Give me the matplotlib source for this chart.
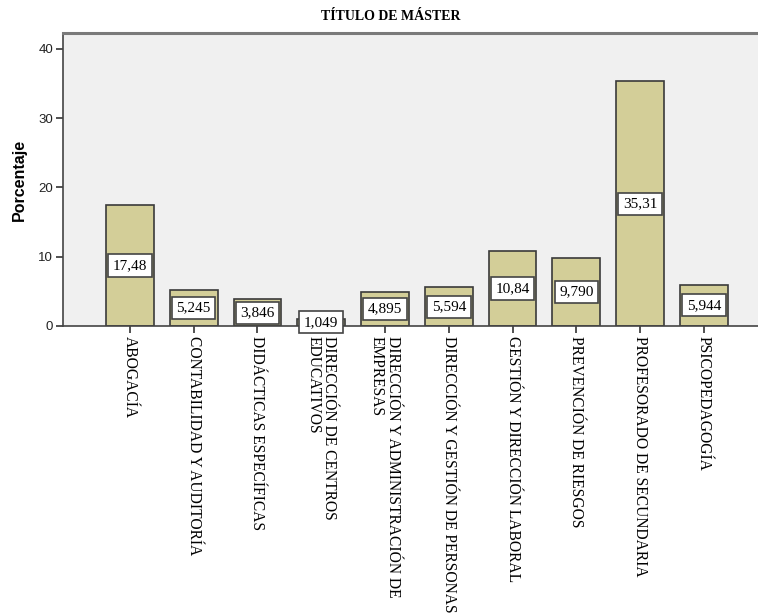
import matplotlib
matplotlib.use("Agg")
import matplotlib.pyplot as plt

categories = ["ABOGACÍA", "CONTABILIDAD Y AUDITORÍA", "DIDÁCTICAS ESPECÍFICAS",
              "DIRECCIÓN DE CENTROS\nEDUCATIVOS", "DIRECCIÓN Y ADMINISTRACIÓN DE\nEMPRESAS",
              "DIRECCIÓN Y GESTIÓN DE PERSONAS", "GESTIÓN Y DIRECCIÓN LABORAL",
              "PREVENCIÓN DE RIESGOS", "PROFESORADO DE SECUNDARIA", "PSICOPEDAGOGÍA"]
values = [17.48, 5.245, 3.846, 1.049, 4.895, 5.594, 10.84, 9.790, 35.31, 5.944]
value_labels = ["17,48", "5,245", "3,846", "1,049", "4,895", "5,594", "10,84", "9,790", "35,31", "5,944"]
yticks = [0, 10, 20, 30, 40]

fig = plt.figure(figsize=(7.58, 6.16), dpi=100)
ax = fig.add_axes([63/758, 1-326/616, 1-63/758, (326-33)/616])
ax.set_facecolor("#F0F0F0")

x = list(range(len(categories)))
ax.bar(x, values, width=0.75, color="#D3CE98", edgecolor="#3A3A3A", linewidth=1.2, zorder=2)

for xi, v, lab in zip(x, values, value_labels):
    ax.text(xi, v/2, lab, ha="center", va="center", fontsize=11,
            family="Liberation Serif", color="black", zorder=5, clip_on=False,
            bbox=dict(boxstyle="square,pad=0.3", facecolor="white", edgecolor="#444444", linewidth=1.2))

ax.set_xlim(-1.05, 9.85)
ax.set_ylim(0, 42.3)
ax.set_yticks(yticks)
ax.set_yticklabels([str(t) for t in yticks], family="Liberation Sans", fontsize=9.5, color="#222222")
ax.set_xticks(x)
ax.set_xticklabels(categories, rotation=-90, ha="center", va="top", rotation_mode="default",
                   family="Liberation Serif", fontsize=11.2, multialignment="left",
                   linespacing=1.0)
ax.tick_params(axis="both", direction="out", length=5, width=1.2, color="#333333")
ax.tick_params(axis="x", pad=2)
ax.tick_params(axis="y", pad=2)

for s in ["left", "bottom"]:
    ax.spines[s].set_color("#444444")
    ax.spines[s].set_linewidth(1.2)
ax.spines["top"].set_color("#7A7A7A")
ax.spines["top"].set_linewidth(2.2)
ax.spines["right"].set_visible(False)

ax.set_ylabel("Porcentaje", family="Liberation Sans", fontsize=11.5, fontweight="bold", labelpad=8)

fig.text(391/758, 1-17/616, "TÍTULO DE MÁSTER", ha="center", va="center",
         family="Liberation Serif", fontsize=10, fontweight="bold")

fig.savefig("out.png", dpi=100)
